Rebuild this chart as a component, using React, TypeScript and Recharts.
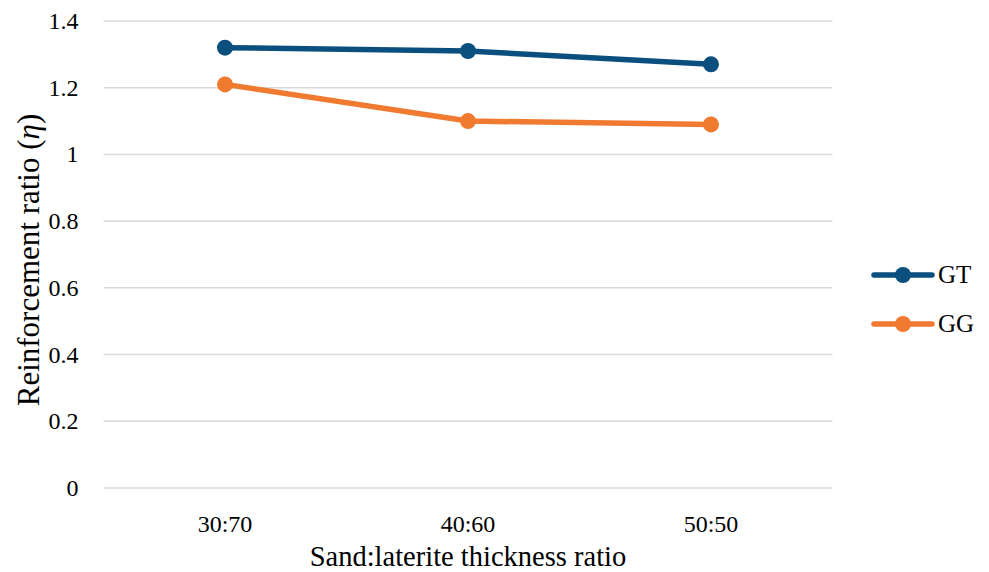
import { LineChart, Line, XAxis, YAxis, CartesianGrid } from "recharts";

const ratios = ["30:70", "40:60", "50:50"];
const gtValues = [1.32, 1.31, 1.27];
const ggValues = [1.21, 1.1, 1.09];
const yTicks = [0, 0.2, 0.4, 0.6, 0.8, 1, 1.2, 1.4];

const GT_COLOR = "#0a4f7e";
const GG_COLOR = "#ef7a30";
const FONT = "'Liberation Serif', 'Times New Roman', serif";

const data = ratios.map((r, i) => ({ ratio: r, GT: gtValues[i], GG: ggValues[i] }));

const legendItems = [
  { name: "GT", color: GT_COLOR },
  { name: "GG", color: GG_COLOR },
];

// legend drawn beside the plot, to the right
function SeriesLegend() {
  return (
    <div style={{ position: "absolute", left: 871, top: 250, fontFamily: FONT, fontSize: 25, color: "#000" }}>
      {legendItems.map((item) => (
        <div key={item.name} style={{ display: "flex", alignItems: "center", height: 49 }}>
          <svg width={64} height={18}>
            <line x1={3} y1={9} x2={61} y2={9} stroke={item.color} strokeWidth={5.5} strokeLinecap="round" />
            <circle cx={32} cy={9} r={8} fill={item.color} />
          </svg>
          <span style={{ marginLeft: 3 }}>{item.name}</span>
        </div>
      ))}
    </div>
  );
}

function YLabel() {
  const cx = 28;
  const cy = 260;
  return (
    <text
      x={cx}
      y={cy}
      transform={`rotate(-90, ${cx}, ${cy})`}
      textAnchor="middle"
      dominantBaseline="central"
      fontFamily={FONT}
      fontSize={31}
      fill="#000"
    >
      Reinforcement ratio (<tspan fontStyle="italic">η</tspan>)
    </text>
  );
}

function XLabel({ viewBox }: any) {
  return (
    <text
      x={viewBox.x + viewBox.width / 2}
      y={556}
      textAnchor="middle"
      dominantBaseline="central"
      fontFamily={FONT}
      fontSize={28.5}
      fill="#000"
    >
      Sand:laterite thickness ratio
    </text>
  );
}

function XTick({ x, y, payload }: any) {
  return (
    <text x={x} y={y + 34} textAnchor="middle" dominantBaseline="central" fontFamily={FONT} fontSize={24} fill="#000">
      {payload.value}
    </text>
  );
}

function YTick({ x, y, payload }: any) {
  return (
    <text x={x - 23} y={y} textAnchor="end" dominantBaseline="central" fontFamily={FONT} fontSize={24} fill="#000">
      {payload.value}
    </text>
  );
}

export default function App() {
  return (
    <div style={{ position: "absolute", left: 0, top: 0, width: 989, height: 572, background: "#fff", fontFamily: FONT }}>
      <LineChart width={989} height={572} data={data} margin={{ top: 21, right: 156.5, bottom: 0, left: 0 }}>
        <CartesianGrid vertical={false} stroke="#d9d9d9" strokeWidth={1.5} />
        <XAxis
          dataKey="ratio"
          padding={{ left: 121.5, right: 121.5 }}
          axisLine={false}
          tickLine={false}
          tickSize={0}
          tick={<XTick />}
          height={84}
          label={<XLabel />}
        />
        <YAxis
          width={103.5}
          domain={[0, 1.4]}
          ticks={yTicks}
          axisLine={false}
          tickLine={false}
          tickSize={0}
          tick={<YTick />}
          label={<YLabel />}
        />
        <Line
          dataKey="GT"
          stroke={GT_COLOR}
          strokeWidth={5.5}
          dot={{ r: 8, fill: GT_COLOR, stroke: GT_COLOR, strokeWidth: 0 }}
          isAnimationActive={false}
        />
        <Line
          dataKey="GG"
          stroke={GG_COLOR}
          strokeWidth={5.5}
          dot={{ r: 8, fill: GG_COLOR, stroke: GG_COLOR, strokeWidth: 0 }}
          isAnimationActive={false}
        />
      </LineChart>
      <SeriesLegend />
    </div>
  );
}
